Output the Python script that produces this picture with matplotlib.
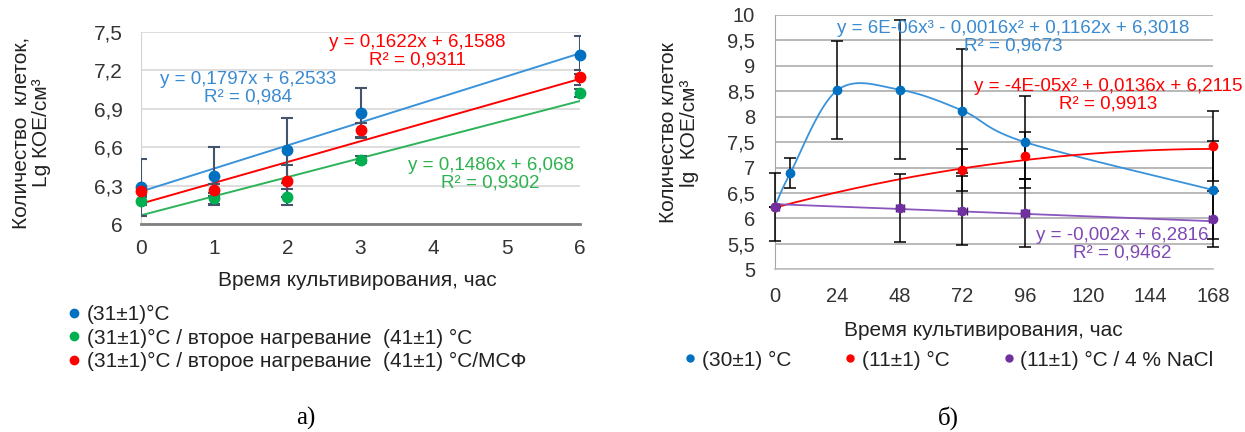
import numpy as np
import matplotlib
matplotlib.use("Agg")
import matplotlib.pyplot as plt
from matplotlib.lines import Line2D

plt.rcParams['font.family'] = ['Liberation Sans', 'DejaVu Sans']

# ---------- panel a) data ----------
hours_a = [0, 1, 2, 3, 6]
a_blue = [6.285, 6.375, 6.575, 6.865, 7.32]
a_blue_err = [0.225, 0.225, 0.255, 0.195, 0.15]
a_green = [6.18, 6.20, 6.21, 6.503, 7.02]
a_green_err = [0.03, 0.045, 0.065, 0.03, 0.03]
a_red = [6.26, 6.265, 6.334, 6.735, 7.145]
a_red_err = [0.03, 0.05, 0.125, 0.055, 0.058]
# linear trend coefficients (slope, intercept, R²)
a_blue_fit = (0.1797, 6.2533, "0,984")
a_green_fit = (0.1486, 6.068, "0,9302")
a_red_fit = (0.1622, 6.1588, "0,9311")
a_yticks = [6, 6.3, 6.6, 6.9, 7.2, 7.5]
a_ytick_labels = ["6", "6,3", "6,6", "6,9", "7,2", "7,5"]
a_labels = ["(31±1)°C",
            "(31±1)°C / второе нагревание  (41±1) °C",
            "(31±1)°C / второе нагревание  (41±1) °C/МСФ"]

# ---------- panel б) data ----------
hours_b_blue = [0, 6, 24, 48, 72, 96, 168]
b_blue = [6.22, 6.89, 8.52, 8.53, 8.12, 7.50, 6.56]
b_blue_err = [0.67, 0.29, 0.96, 1.37, 1.22, 0.91, 0.97]
hours_b_red = [0, 72, 96, 168]
b_red = [6.22, 6.95, 7.23, 7.42]
b_red_err = [0.0, 0.42, 0.46, 0.69]
hours_b_purple = [0, 48, 72, 96, 168]
b_purple = [6.22, 6.20, 6.15, 6.10, 5.98]
b_purple_err = [0.0, 0.67, 0.68, 0.67, 0.55]
b_red_fit = (-4e-05, 0.0136, 6.2115)      # quadratic
b_purple_fit = (-0.002, 6.2816)           # linear
b_xticks = [0, 24, 48, 72, 96, 120, 144, 168]
b_yticks = [5, 5.5, 6, 6.5, 7, 7.5, 8, 8.5, 9, 9.5, 10]
b_ytick_labels = ["5", "5,5", "6", "6,5", "7", "7,5", "8", "8,5", "9", "9,5", "10"]
b_labels = ["(30±1) °C", "(11±1) °C", "(11±1) °C / 4 % NaCl"]

C_BLUE = "#0070C0"
C_BLUE_LINE = "#3A93DA"
C_BLUE_TXT = "#3A8AD0"
C_GREEN = "#00B050"
C_GREEN_LINE = "#2DB45A"
C_RED = "#FF0000"
C_PURPLE = "#7030A0"
C_PURPLE_LINE = "#8A55BD"
C_PURPLE_TXT = "#7E48B4"


def catmull_rom(xs, ys, n=60):
    """Smooth curve through the points (Catmull-Rom, uniform)."""
    P = np.column_stack([xs, ys]).astype(float)
    Q = np.vstack([P[0], P, P[-1]])
    t = np.linspace(0, 1, n)[:, None]
    h00 = 2 * t**3 - 3 * t**2 + 1
    h10 = t**3 - 2 * t**2 + t
    h01 = -2 * t**3 + 3 * t**2
    h11 = t**3 - t**2
    segs = []
    for i in range(len(P) - 1):
        p0, p1, p2, p3 = Q[i], Q[i + 1], Q[i + 2], Q[i + 3]
        m1 = (p2 - p0) / 2
        m2 = (p3 - p1) / 2
        segs.append(h00 * p1 + h10 * m1 + h01 * p2 + h11 * m2)
    c = np.vstack(segs)
    return c[:, 0], c[:, 1]


W, H = 1245, 432
fig = plt.figure(figsize=(W / 100, H / 100), dpi=100)


def box(x0, y0, x1, y1):
    return [x0 / W, 1 - y1 / H, (x1 - x0) / W, (y1 - y0) / H]


# ================= panel a) =================
ax = fig.add_axes(box(141, 31.7, 580, 224))
ax.set_xlim(0, 6)
ax.set_ylim(6, 7.5)
ax.set_yticks(a_yticks)
ax.set_yticklabels(a_ytick_labels)
ax.set_xticks(range(0, 7))
ax.tick_params(length=0, labelsize=15, colors="#333333")
ax.tick_params(axis="y", pad=13)
ax.tick_params(axis="x", pad=11)
ax.grid(axis="y", color="#D4D4D4", lw=1.1)
ax.set_axisbelow(True)
for s in ("top", "right"):
    ax.spines[s].set_visible(False)
ax.spines["left"].set_color("#D4D4D4")
ax.spines["bottom"].set_color("#7F7F7F")
ax.spines["bottom"].set_linewidth(2)

xx = np.linspace(0, 6, 50)
for (k, b, _), col in ((a_blue_fit, C_BLUE_LINE), (a_red_fit, C_RED), (a_green_fit, C_GREEN_LINE)):
    ax.plot(xx, k * xx + b, color=col, lw=1.4, zorder=2)

for vals, err, col in ((a_blue, a_blue_err, C_BLUE), (a_green, a_green_err, C_GREEN),
                       (a_red, a_red_err, C_RED)):
    ax.errorbar(hours_a, vals, yerr=err, fmt="none", ecolor="#44546A", elinewidth=1.5,
                capsize=4.5, capthick=1.5, zorder=3)
    ax.plot(hours_a, vals, "o", color=col, ms=7.5, zorder=4, clip_on=False)


def eq_text(axis, x, y, k, b, r2, col):
    s = f"y = {k:.4f}".rstrip("0").replace(".", ",") + "x + " + f"{b}".replace(".", ",")
    axis.text(x, y, s + "\nR² = " + r2, color=col, fontsize=13.5, ha="center", va="center",
              linespacing=1.05, zorder=5)


eq_text(ax, 1.46, 7.06, a_blue_fit[0], a_blue_fit[1], a_blue_fit[2], C_BLUE_TXT)
eq_text(ax, 3.78, 7.35, a_red_fit[0], a_red_fit[1], a_red_fit[2], C_RED)
eq_text(ax, 4.78, 6.385, a_green_fit[0], a_green_fit[1], a_green_fit[2], "#2DB24F")

fig.text(31.5 / W, 1 - 133 / H, "Количество  клеток,\nLg КОЕ/см³", rotation=90,
         ha="center", va="center", fontsize=15, color="#222222", linespacing=1.1)
fig.text(357 / W, 1 - 281 / H, "Время культивирования, час", ha="center", va="center",
         fontsize=15, color="#222222")

handles_a = [Line2D([], [], ls="none", marker="o", ms=6, color=c) for c in (C_BLUE, C_GREEN, C_RED)]
fig.legend(handles_a, a_labels, loc="upper left", bbox_to_anchor=(69 / W, 1 - 305 / H),
           frameon=False, fontsize=15, handlelength=0.5, handletextpad=0.35,
           labelspacing=0.22, borderpad=0, borderaxespad=0, labelcolor="#222222")

# ================= panel б) =================
bx = fig.add_axes(box(774.6, 15, 1213, 269.3))
bx.set_xlim(0, 168)
bx.set_ylim(5, 10)
bx.set_xticks(b_xticks)
bx.set_yticks(b_yticks)
bx.set_yticklabels(b_ytick_labels)
bx.tick_params(length=0, labelsize=14.5, colors="#333333")
bx.tick_params(axis="y", pad=14)
bx.tick_params(axis="x", pad=13)
bx.grid(axis="y", color="#A6A6A6", lw=1.1)
bx.set_axisbelow(True)
for s in ("top", "right"):
    bx.spines[s].set_visible(False)
bx.spines["left"].set_color("#A6A6A6")
bx.spines["bottom"].set_color("#BFBFBF")
bx.spines["bottom"].set_linewidth(1.2)

cx, cy = catmull_rom(hours_b_blue, b_blue)
bx.plot(cx, cy, color=C_BLUE_LINE, lw=1.3, zorder=2)
hh = np.linspace(0, 168, 200)
bx.plot(hh, b_red_fit[0] * hh**2 + b_red_fit[1] * hh + b_red_fit[2], color=C_RED, lw=1.3, zorder=2)
bx.plot(hh, b_purple_fit[0] * hh + b_purple_fit[1], color=C_PURPLE_LINE, lw=1.3, zorder=2)

for hrs, vals, err, col in ((hours_b_blue, b_blue, b_blue_err, C_BLUE),
                            (hours_b_red, b_red, b_red_err, C_RED),
                            (hours_b_purple, b_purple, b_purple_err, C_PURPLE)):
    bx.errorbar(hrs, vals, yerr=err, fmt="none", ecolor="black", elinewidth=1.1,
                capsize=4, capthick=1.1, zorder=3, clip_on=False)
bx.errorbar(hours_b_purple, b_purple, xerr=1.6, fmt="none", ecolor="#3F1A5E", elinewidth=1,
            capsize=3, capthick=1, zorder=3)
for hrs, vals, col in ((hours_b_blue, b_blue, C_BLUE), (hours_b_red, b_red, C_RED),
                       (hours_b_purple, b_purple, C_PURPLE)):
    bx.plot(hrs, vals, "o", color=col, ms=6, zorder=4, clip_on=False)

bx.text(91.6, 9.57, "y = 6E-06x³ - 0,0016x² + 0,1162x + 6,3018\nR² = 0,9673", color=C_BLUE_TXT,
        fontsize=13.5, ha="center", va="center", linespacing=1.05, zorder=5)
bx.text(127.8, 8.42, "y = -4E-05x² + 0,0136x + 6,2115\nR² = 0,9913", color=C_RED,
        fontsize=13.5, ha="center", va="center", linespacing=1.05, zorder=5)
bx.text(133.3, 5.50, "y = -0,002x + 6,2816\nR² = 0,9462", color=C_PURPLE_TXT,
        fontsize=13.5, ha="center", va="center", linespacing=1.05, zorder=5)

fig.text(679 / W, 1 - 133 / H, "Количество клеток\nlg  КОЕ/см³", rotation=90,
         ha="center", va="center", fontsize=15, color="#222222", linespacing=1.1)
fig.text(983 / W, 1 - 330 / H, "Время культивирования, час", ha="center", va="center",
         fontsize=15, color="#222222")

handles_b = [Line2D([], [], ls="none", marker="o", ms=5, color=c) for c in (C_BLUE, C_RED, C_PURPLE)]
fig.legend(handles_b, b_labels, loc="center left", bbox_to_anchor=(685 / W, 1 - 360 / H),
           ncol=3, frameon=False, fontsize=15, handlelength=0.5, handletextpad=0.3,
           columnspacing=2.6, borderpad=0, borderaxespad=0, labelcolor="#222222")

# panel captions
fig.text(306 / W, 1 - 418 / H, "а)", ha="center", va="center", fontsize=18,
         family=["Liberation Serif", "DejaVu Serif"])
fig.text(948 / W, 1 - 418 / H, "б)", ha="center", va="center", fontsize=18,
         family=["Liberation Serif", "DejaVu Serif"])

fig.savefig("out.png", dpi=100)
